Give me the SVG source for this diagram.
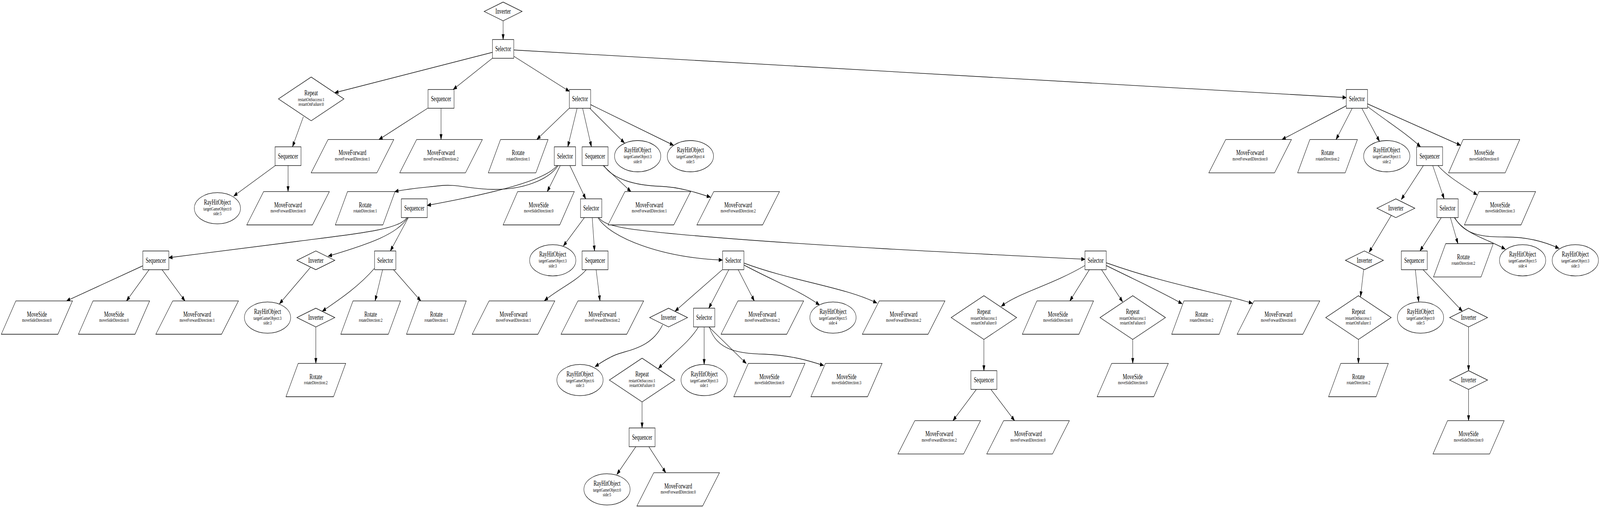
<svg xmlns="http://www.w3.org/2000/svg" width="6160" height="1301" viewBox="0 0 6160 1301" preserveAspectRatio="none">
<defs>
<style>
svg{width:100%;height:100%}
.sh{fill:#fff;stroke:#000;stroke-width:1.33}
.t{font-family:"Liberation Serif","Times New Roman",serif;font-size:18.67px;text-anchor:middle;fill:#000}
.s{font-size:13.33px}
.e path{fill:none;stroke:#000;stroke-width:1.33;marker-end:url(#arr)}
</style>
<marker id="arr" markerWidth="14" markerHeight="10" refX="13.33" refY="4.67" orient="auto" markerUnits="userSpaceOnUse" overflow="visible"><path d="M0,0 L13.33,4.67 L0,9.33 z" fill="#000" stroke="#000" stroke-width="1"/></marker>
<rect id="bSel" class="sh" x="-41" y="-24" width="82" height="48"/>
<rect id="bSeq" class="sh" x="-50" y="-24" width="100" height="48"/>
<polygon id="dInv" class="sh" points="-73,0 0,-24 73,0 0,24"/>
<polygon id="dRep" class="sh" points="-126,0 0,-56 126,0 0,56"/>
<ellipse id="eRay" class="sh" cx="0" cy="0" rx="89" ry="40"/>
<polygon id="pMF" class="sh" points="-94,-42.67 159,-42.67 94,42.67 -159,42.67"/>
<polygon id="pMS" class="sh" points="-81,-42.67 137,-42.67 81,42.67 -137,42.67"/>
<polygon id="pRot" class="sh" points="-68,-42.67 115,-42.67 68,42.67 -115,42.67"/>
</defs>
<rect width="6160" height="1301" fill="#fff"/>
<g id="edges" class="e">
<path d="M1937,53.3 L1937,101.3"/>
<path d="M1896,134 L1289,237.5"/>
<path d="M1896,149 L1745,229"/>
<path d="M1978,144 L2192,234"/>
<path d="M1978,128 L5183,250"/>
<path d="M1168,299 L1126,376"/>
<path d="M1060,424 L900,502"/>
<path d="M1109,424 L1109,490.7"/>
<path d="M1647,277 L1459,357.3"/>
<path d="M1698,277 L1698,357.3"/>
<path d="M2192,277 L2067,357"/>
<path d="M2222,277 L2186,376"/>
<path d="M2243,277 L2277,376"/>
<path d="M2270,277 L2404,366"/>
<path d="M2274,268 L2593,372"/>
<path d="M2149,424 C2110,462 2010,486 1900,485 C1800,484 1760,470 1689,476 C1620,481 1560,484 1520,491"/>
<path d="M2145,424 C2100,462 1900,495 1645,526"/>
<path d="M2157,424 L2107,490.7"/>
<path d="M2194,424 L2255,509.3"/>
<path d="M2322,424 L2429,490.7"/>
<path d="M2325,424 C2360,460 2450,475 2540,477 C2620,479 2690,495 2735,505"/>
<path d="M1566,557.3 C1540,590 1350,600 1100,622 C900,640 750,652 650,660"/>
<path d="M1570,557.3 C1530,600 1420,625 1264,656"/>
<path d="M1572,557.3 L1503,642.7"/>
<path d="M2250,557.3 L2169,630"/>
<path d="M2280,557.3 L2289,642.7"/>
<path d="M2302,557.3 C2350,610 2550,660 2781,666"/>
<path d="M2305,557.3 C2330,580 2400,588 2700,605 C3100,628 3700,648 4177,664"/>
<path d="M2257,690.7 C2220,720 2150,740 2096,770"/>
<path d="M2295,690.7 L2310,770.7"/>
<path d="M2781,690.7 L2599,797"/>
<path d="M2806,690.7 L2729,789.3"/>
<path d="M2842,690.7 L2904,770.7"/>
<path d="M2865,679 C2980,720 3080,745 3155,781"/>
<path d="M2865,674 C3050,720 3250,735 3376,776"/>
<path d="M2551,832 C2500,900 2400,895 2350,915 C2320,925 2300,935 2291,939"/>
<path d="M2689,837.3 C2650,880 2580,910 2535,944"/>
<path d="M2711,837.3 L2711,933.3"/>
<path d="M2729,837.3 L2873,930.7"/>
<path d="M2731,837.3 C2760,900 2850,905 2942,907 C3050,910 3120,925 3171,936"/>
<path d="M2472,1029.3 L2472,1096"/>
<path d="M2448,1144 L2375,1215"/>
<path d="M2498,1144 L2563,1210.7"/>
<path d="M4177,680 C4050,730 3920,750 3855,784.5"/>
<path d="M4194,690.7 L4119,770.7"/>
<path d="M4241,690.7 L4322,773"/>
<path d="M4259,680 C4380,720 4480,750 4551,778"/>
<path d="M4259,673 C4500,730 4700,750 4822,777"/>
<path d="M3788,869.3 L3788,949.3"/>
<path d="M3759,997.3 L3669,1077.3"/>
<path d="M3815,997.3 L3906,1077.3"/>
<path d="M4361,869.3 L4361,930.7"/>
<path d="M5183,271 L4936,357.3"/>
<path d="M5206,277.3 L5144,357.3"/>
<path d="M5243,277.3 L5311,362"/>
<path d="M5265,273 C5360,320 5420,345 5469,376"/>
<path d="M5265,266 L5623,372"/>
<path d="M5480,424 L5395,511"/>
<path d="M5516,424 L5560,509.3"/>
<path d="M5536,424 C5570,450 5620,470 5687,499"/>
<path d="M5357,551 L5271,646"/>
<path d="M5549,557.3 L5467,642.7"/>
<path d="M5584,557.3 L5613,624"/>
<path d="M5599,557.3 C5640,600 5720,610 5795,638"/>
<path d="M5601,557.3 C5640,605 5720,607 5800,607 C5880,607 5950,620 6002,636"/>
<path d="M5250,690.7 L5238,760"/>
<path d="M5230,869.3 L5230,930.7"/>
<path d="M5449,690.7 L5462,773.3"/>
<path d="M5479,690.7 L5630,797"/>
<path d="M5654,837.3 L5654,949.3"/>
<path d="M5654,997.3 L5654,1077.3"/>
<path d="M549,681 L256,770.7"/>
<path d="M574,690.7 L487,770.7"/>
<path d="M624,690.7 L712,770.7"/>
<path d="M1195,685 L1076,778"/>
<path d="M1442,687 C1380,735 1300,770 1241,797"/>
<path d="M1473,690.7 L1444,770.7"/>
<path d="M1515,690.7 L1620,770.7"/>
<path d="M1216,837.3 L1216,930.7"/>
</g>
<g id="n0"><use href="#dInv" x="1937" y="29.3"/><text class="t" x="1937" y="35.3">Inverter</text></g>
<g id="n1"><use href="#bSel" x="1937" y="125.3"/><text class="t" x="1937" y="131.3">Selector</text></g>
<g id="n2"><use href="#dRep" x="1198" y="253.3"/><text class="t" x="1198" y="243.8">Repeat</text><text class="t s" x="1198" y="258.6">restartOnSuccess:1</text><text class="t s" x="1198" y="271.3">restartOnFailure:0</text></g>
<g id="n3"><use href="#bSeq" x="1698" y="253.3"/><text class="t" x="1698" y="259.3">Sequencer</text></g>
<g id="n4"><use href="#bSel" x="2233" y="253.3"/><text class="t" x="2233" y="259.3">Selector</text></g>
<g id="n5"><use href="#bSel" x="5224" y="253.3"/><text class="t" x="5224" y="259.3">Selector</text></g>
<g id="n6"><use href="#bSeq" x="1109" y="400"/><text class="t" x="1109" y="406">Sequencer</text></g>
<g id="n7"><use href="#eRay" x="837" y="533.3"/><text class="t" x="837" y="523.8">RayHitObject</text><text class="t s" x="837" y="538.6">targetGameObject:0</text><text class="t s" x="837" y="551.3">side:5</text></g>
<g id="n8"><use href="#pMF" x="1109" y="533.3"/><text class="t" x="1109" y="530.8">MoveForward</text><text class="t s" x="1109" y="544.3">moveForwardDirection:0</text></g>
<g id="n9"><use href="#pMF" x="1357" y="400"/><text class="t" x="1357" y="397.5">MoveForward</text><text class="t s" x="1357" y="411">moveForwardDirection:1</text></g>
<g id="n10"><use href="#pMF" x="1698" y="400"/><text class="t" x="1698" y="397.5">MoveForward</text><text class="t s" x="1698" y="411">moveForwardDirection:2</text></g>
<g id="n11"><use href="#pRot" x="1995" y="400"/><text class="t" x="1995" y="397.5">Rotate</text><text class="t s" x="1995" y="411">rotateDirection:1</text></g>
<g id="n12"><use href="#bSel" x="2175" y="400"/><text class="t" x="2175" y="406">Selector</text></g>
<g id="n13"><use href="#bSeq" x="2291" y="400"/><text class="t" x="2291" y="406">Sequencer</text></g>
<g id="n14"><use href="#eRay" x="2455" y="400"/><text class="t" x="2455" y="390.5">RayHitObject</text><text class="t s" x="2455" y="405.3">targetGameObject:3</text><text class="t s" x="2455" y="418">side:0</text></g>
<g id="n15"><use href="#eRay" x="2658" y="400"/><text class="t" x="2658" y="390.5">RayHitObject</text><text class="t s" x="2658" y="405.3">targetGameObject:4</text><text class="t s" x="2658" y="418">side:5</text></g>
<g id="n16"><use href="#pRot" x="1406" y="533.3"/><text class="t" x="1406" y="530.8">Rotate</text><text class="t s" x="1406" y="544.3">rotateDirection:1</text></g>
<g id="n17"><use href="#bSeq" x="1595" y="533.3"/><text class="t" x="1595" y="539.3">Sequencer</text></g>
<g id="n18"><use href="#pMS" x="2074" y="533.3"/><text class="t" x="2074" y="530.8">MoveSide</text><text class="t s" x="2074" y="544.3">moveSideDirection:0</text></g>
<g id="n19"><use href="#bSel" x="2276" y="533.3"/><text class="t" x="2276" y="539.3">Selector</text></g>
<g id="n20"><use href="#pMF" x="2500" y="533.3"/><text class="t" x="2500" y="530.8">MoveForward</text><text class="t s" x="2500" y="544.3">moveForwardDirection:1</text></g>
<g id="n21"><use href="#pMF" x="2842" y="533.3"/><text class="t" x="2842" y="530.8">MoveForward</text><text class="t s" x="2842" y="544.3">moveForwardDirection:2</text></g>
<g id="n22"><use href="#bSeq" x="600" y="666.7"/><text class="t" x="600" y="672.7">Sequencer</text></g>
<g id="n23"><use href="#dInv" x="1216" y="666.7"/><text class="t" x="1216" y="672.7">Inverter</text></g>
<g id="n24"><use href="#bSel" x="1483" y="666.7"/><text class="t" x="1483" y="672.7">Selector</text></g>
<g id="n25"><use href="#pMS" x="142" y="813.3"/><text class="t" x="142" y="810.8">MoveSide</text><text class="t s" x="142" y="824.3">moveSideDirection:0</text></g>
<g id="n26"><use href="#pMS" x="439" y="813.3"/><text class="t" x="439" y="810.8">MoveSide</text><text class="t s" x="439" y="824.3">moveSideDirection:0</text></g>
<g id="n27"><use href="#pMF" x="759" y="813.3"/><text class="t" x="759" y="810.8">MoveForward</text><text class="t s" x="759" y="824.3">moveForwardDirection:1</text></g>
<g id="n28"><use href="#eRay" x="1030" y="813.3"/><text class="t" x="1030" y="803.8">RayHitObject</text><text class="t s" x="1030" y="818.6">targetGameObject:3</text><text class="t s" x="1030" y="831.3">side:3</text></g>
<g id="n29"><use href="#dInv" x="1216" y="813.3"/><text class="t" x="1216" y="819.3">Inverter</text></g>
<g id="n30"><use href="#pRot" x="1427" y="813.3"/><text class="t" x="1427" y="810.8">Rotate</text><text class="t s" x="1427" y="824.3">rotateDirection:2</text></g>
<g id="n31"><use href="#pRot" x="1680" y="813.3"/><text class="t" x="1680" y="810.8">Rotate</text><text class="t s" x="1680" y="824.3">rotateDirection:1</text></g>
<g id="n32"><use href="#pRot" x="1216" y="973.3"/><text class="t" x="1216" y="970.8">Rotate</text><text class="t s" x="1216" y="984.3">rotateDirection:2</text></g>
<g id="n33"><use href="#eRay" x="2128" y="666.7"/><text class="t" x="2128" y="657.2">RayHitObject</text><text class="t s" x="2128" y="672">targetGameObject:3</text><text class="t s" x="2128" y="684.7">side:3</text></g>
<g id="n34"><use href="#bSeq" x="2291" y="666.7"/><text class="t" x="2291" y="672.7">Sequencer</text></g>
<g id="n35"><use href="#bSel" x="2823" y="666.7"/><text class="t" x="2823" y="672.7">Selector</text></g>
<g id="n36"><use href="#bSel" x="4218" y="666.7"/><text class="t" x="4218" y="672.7">Selector</text></g>
<g id="n37"><use href="#pMF" x="1977" y="813.3"/><text class="t" x="1977" y="810.8">MoveForward</text><text class="t s" x="1977" y="824.3">moveForwardDirection:1</text></g>
<g id="n38"><use href="#pMF" x="2319" y="813.3"/><text class="t" x="2319" y="810.8">MoveForward</text><text class="t s" x="2319" y="824.3">moveForwardDirection:2</text></g>
<g id="n39"><use href="#dInv" x="2574" y="813.3"/><text class="t" x="2574" y="819.3">Inverter</text></g>
<g id="n40"><use href="#bSel" x="2711" y="813.3"/><text class="t" x="2711" y="819.3">Selector</text></g>
<g id="n41"><use href="#pMF" x="2935" y="813.3"/><text class="t" x="2935" y="810.8">MoveForward</text><text class="t s" x="2935" y="824.3">moveForwardDirection:2</text></g>
<g id="n42"><use href="#eRay" x="3207" y="813.3"/><text class="t" x="3207" y="803.8">RayHitObject</text><text class="t s" x="3207" y="818.6">targetGameObject:5</text><text class="t s" x="3207" y="831.3">side:4</text></g>
<g id="n43"><use href="#pMF" x="3479" y="813.3"/><text class="t" x="3479" y="810.8">MoveForward</text><text class="t s" x="3479" y="824.3">moveForwardDirection:2</text></g>
<g id="n44"><use href="#eRay" x="2233" y="973.3"/><text class="t" x="2233" y="963.8">RayHitObject</text><text class="t s" x="2233" y="978.6">targetGameObject:6</text><text class="t s" x="2233" y="991.3">side:3</text></g>
<g id="n45"><use href="#dRep" x="2472" y="973.3"/><text class="t" x="2472" y="963.8">Repeat</text><text class="t s" x="2472" y="978.6">restartOnSuccess:1</text><text class="t s" x="2472" y="991.3">restartOnFailure:0</text></g>
<g id="n46"><use href="#eRay" x="2711" y="973.3"/><text class="t" x="2711" y="963.8">RayHitObject</text><text class="t s" x="2711" y="978.6">targetGameObject:3</text><text class="t s" x="2711" y="991.3">side:1</text></g>
<g id="n47"><use href="#pMS" x="2962" y="973.3"/><text class="t" x="2962" y="970.8">MoveSide</text><text class="t s" x="2962" y="984.3">moveSideDirection:0</text></g>
<g id="n48"><use href="#pMS" x="3259" y="973.3"/><text class="t" x="3259" y="970.8">MoveSide</text><text class="t s" x="3259" y="984.3">moveSideDirection:3</text></g>
<g id="n49"><use href="#bSeq" x="2472" y="1120"/><text class="t" x="2472" y="1126">Sequencer</text></g>
<g id="n50"><use href="#eRay" x="2337" y="1253.3"/><text class="t" x="2337" y="1243.8">RayHitObject</text><text class="t s" x="2337" y="1258.6">targetGameObject:0</text><text class="t s" x="2337" y="1271.3">side:5</text></g>
<g id="n51"><use href="#pMF" x="2611" y="1253.3"/><text class="t" x="2611" y="1250.8">MoveForward</text><text class="t s" x="2611" y="1264.3">moveForwardDirection:0</text></g>
<g id="n52"><use href="#dRep" x="3788" y="813.3"/><text class="t" x="3788" y="803.8">Repeat</text><text class="t s" x="3788" y="818.6">restartOnSuccess:1</text><text class="t s" x="3788" y="831.3">restartOnFailure:0</text></g>
<g id="n53"><use href="#pMS" x="4073" y="813.3"/><text class="t" x="4073" y="810.8">MoveSide</text><text class="t s" x="4073" y="824.3">moveSideDirection:0</text></g>
<g id="n54"><use href="#dRep" x="4361" y="813.3"/><text class="t" x="4361" y="803.8">Repeat</text><text class="t s" x="4361" y="818.6">restartOnSuccess:1</text><text class="t s" x="4361" y="831.3">restartOnFailure:0</text></g>
<g id="n55"><use href="#pRot" x="4626" y="813.3"/><text class="t" x="4626" y="810.8">Rotate</text><text class="t s" x="4626" y="824.3">rotateDirection:2</text></g>
<g id="n56"><use href="#pMF" x="4922" y="813.3"/><text class="t" x="4922" y="810.8">MoveForward</text><text class="t s" x="4922" y="824.3">moveForwardDirection:0</text></g>
<g id="n57"><use href="#bSeq" x="3788" y="973.3"/><text class="t" x="3788" y="979.3">Sequencer</text></g>
<g id="n58"><use href="#pMF" x="3616" y="1120"/><text class="t" x="3616" y="1117.5">MoveForward</text><text class="t s" x="3616" y="1131">moveForwardDirection:2</text></g>
<g id="n59"><use href="#pMF" x="3958" y="1120"/><text class="t" x="3958" y="1117.5">MoveForward</text><text class="t s" x="3958" y="1131">moveForwardDirection:0</text></g>
<g id="n60"><use href="#pMS" x="4361" y="973.3"/><text class="t" x="4361" y="970.8">MoveSide</text><text class="t s" x="4361" y="984.3">moveSideDirection:0</text></g>
<g id="n61"><use href="#pMF" x="4813" y="400"/><text class="t" x="4813" y="397.5">MoveForward</text><text class="t s" x="4813" y="411">moveForwardDirection:0</text></g>
<g id="n62"><use href="#pRot" x="5111" y="400"/><text class="t" x="5111" y="397.5">Rotate</text><text class="t s" x="5111" y="411">rotateDirection:2</text></g>
<g id="n63"><use href="#eRay" x="5339" y="400"/><text class="t" x="5339" y="390.5">RayHitObject</text><text class="t s" x="5339" y="405.3">targetGameObject:1</text><text class="t s" x="5339" y="418">side:2</text></g>
<g id="n64"><use href="#bSeq" x="5504" y="400"/><text class="t" x="5504" y="406">Sequencer</text></g>
<g id="n65"><use href="#pMS" x="5714" y="400"/><text class="t" x="5714" y="397.5">MoveSide</text><text class="t s" x="5714" y="411">moveSideDirection:0</text></g>
<g id="n66"><use href="#dInv" x="5374" y="533.3"/><text class="t" x="5374" y="539.3">Inverter</text></g>
<g id="n67"><use href="#bSel" x="5573" y="533.3"/><text class="t" x="5573" y="539.3">Selector</text></g>
<g id="n68"><use href="#pMS" x="5775" y="533.3"/><text class="t" x="5775" y="530.8">MoveSide</text><text class="t s" x="5775" y="544.3">moveSideDirection:3</text></g>
<g id="n69"><use href="#dInv" x="5253" y="666.7"/><text class="t" x="5253" y="672.7">Inverter</text></g>
<g id="n70"><use href="#dRep" x="5230" y="813.3"/><text class="t" x="5230" y="803.8">Repeat</text><text class="t s" x="5230" y="818.6">restartOnSuccess:1</text><text class="t s" x="5230" y="831.3">restartOnFailure:1</text></g>
<g id="n71"><use href="#pRot" x="5230" y="973.3"/><text class="t" x="5230" y="970.8">Rotate</text><text class="t s" x="5230" y="984.3">rotateDirection:2</text></g>
<g id="n72"><use href="#bSeq" x="5445" y="666.7"/><text class="t" x="5445" y="672.7">Sequencer</text></g>
<g id="n73"><use href="#pRot" x="5634" y="666.7"/><text class="t" x="5634" y="664.2">Rotate</text><text class="t s" x="5634" y="677.7">rotateDirection:2</text></g>
<g id="n74"><use href="#eRay" x="5862" y="666.7"/><text class="t" x="5862" y="657.2">RayHitObject</text><text class="t s" x="5862" y="672">targetGameObject:5</text><text class="t s" x="5862" y="684.7">side:4</text></g>
<g id="n75"><use href="#eRay" x="6065" y="666.7"/><text class="t" x="6065" y="657.2">RayHitObject</text><text class="t s" x="6065" y="672">targetGameObject:3</text><text class="t s" x="6065" y="684.7">side:3</text></g>
<g id="n76"><use href="#eRay" x="5469" y="813.3"/><text class="t" x="5469" y="803.8">RayHitObject</text><text class="t s" x="5469" y="818.6">targetGameObject:0</text><text class="t s" x="5469" y="831.3">side:5</text></g>
<g id="n77"><use href="#dInv" x="5654" y="813.3"/><text class="t" x="5654" y="819.3">Inverter</text></g>
<g id="n78"><use href="#dInv" x="5654" y="973.3"/><text class="t" x="5654" y="979.3">Inverter</text></g>
<g id="n79"><use href="#pMS" x="5654" y="1120"/><text class="t" x="5654" y="1117.5">MoveSide</text><text class="t s" x="5654" y="1131">moveSideDirection:0</text></g>
</svg>
